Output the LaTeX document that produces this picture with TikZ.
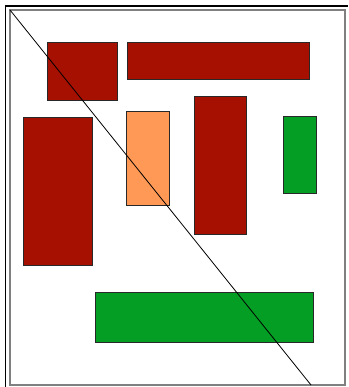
\documentclass[tikz,border=0pt]{standalone}
\definecolor{boxred}{RGB}{166,16,0}
\definecolor{boxorange}{RGB}{255,153,85}
\definecolor{boxgreen}{RGB}{4,158,36}
\definecolor{framegray}{RGB}{128,128,128}
\definecolor{edgegray}{RGB}{40,40,40}

\begin{document}
\begin{tikzpicture}[x=1pt,y=-1pt]
  \def\W{348}
  \def\H{387}

  \useasboundingbox (0,0) rectangle (\W,\H);
  \fill[white] (0,0) rectangle (\W,\H);

  % frame
  \draw[black,line width=1.6pt] (5.5,\H) -- (5.5,6) -- (\W,6);
  \draw[framegray,line width=1.2pt] (10,10) rectangle (345,385);

  % boxes
  \filldraw[fill=boxred,draw=edgegray,line width=0.9pt] (47,42) rectangle (117,100);
  \filldraw[fill=boxred,draw=edgegray,line width=0.9pt] (127,42) rectangle (309,79);
  \filldraw[fill=boxred,draw=edgegray,line width=0.9pt] (23,117) rectangle (92,265);
  \filldraw[fill=boxorange,draw=edgegray,line width=0.9pt] (126,111) rectangle (169,205);
  \filldraw[fill=boxred,draw=edgegray,line width=0.9pt] (194,96) rectangle (246,234);
  \filldraw[fill=boxgreen,draw=edgegray,line width=0.9pt] (283,116) rectangle (316,193);
  \filldraw[fill=boxgreen,draw=edgegray,line width=0.9pt] (95,292) rectangle (313,342);

  % diagonal
  \draw[black,line width=0.8pt] (10,10) -- (311,385);
\end{tikzpicture}
\end{document}
